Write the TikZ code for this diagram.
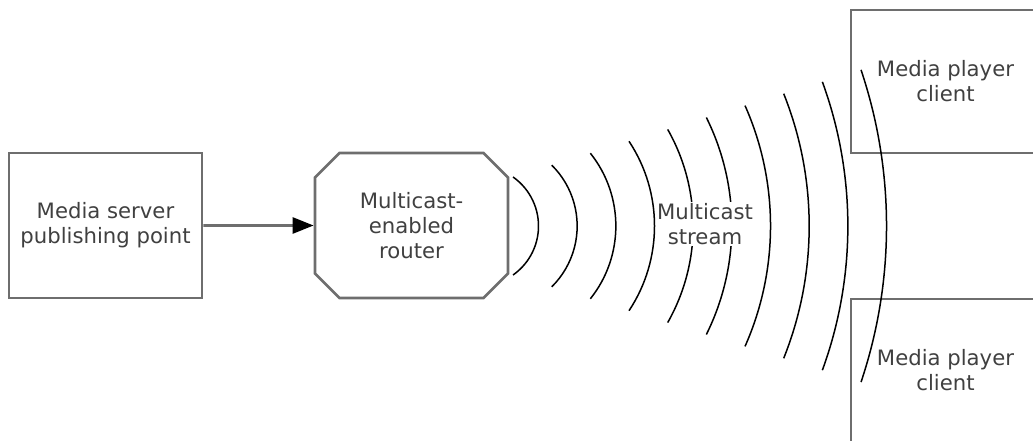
\documentclass[tikz,border=0pt]{standalone}
\usepackage{fontspec}
\setmainfont{DejaVu Sans}
\usetikzlibrary{shapes.misc,arrows.meta}

\tikzset{
  box/.style={draw=black!57, line width=2.8pt, minimum width=193pt, minimum height=145pt,
    align=center, text=black!75, font=\fontsize{21.2}{25}\selectfont},
  routerbox/.style={box, chamfered rectangle, chamfered rectangle xsep=12.5pt,
    chamfered rectangle ysep=12pt},
  wave/.style={line width=1.5pt},
  feed/.style={draw=black!57, line width=2.8pt, -{Triangle[length=21pt,width=16pt,black]}},
  streamlabel/.style={fill=white, inner sep=1pt, align=center, text=black!75,
    font=\fontsize{21.2}{25}\selectfont}
}

\begin{document}
\begin{tikzpicture}[x=1pt, y=-1pt]
  \useasboundingbox (0,0) rectangle (1033,441);
  \node[box] (server) at (105.5,225.5) {Media server\\publishing point};
  \node[routerbox] (router) at (411.5,225.5) {Multicast-\\enabled\\router};
  \node[box, minimum width=189pt, minimum height=143pt] (client1) at (945.5,81.5) {Media player\\client};
  \node[box, minimum width=189pt, minimum height=143pt] (client2) at (945.5,370.5) {Media player\\client};
  \draw[feed] (server) -- (router);
  \foreach \i in {0,...,9}{
    \pgfmathsetmacro{\xa}{513+38.67*\i}
    \pgfmathsetmacro{\hh}{49+11.9*\i}
    \pgfmathsetmacro{\rr}{(\hh/51)*\hh+12.75}
    \pgfmathsetmacro{\aa}{asin(\hh/\rr)}
    \draw[wave] (\xa,226-\hh) arc[start angle=-\aa, end angle=\aa, radius=\rr];
  }
  \node[streamlabel] (stream) at (705,224) {Multicast\\stream};
\end{tikzpicture}
\end{document}
